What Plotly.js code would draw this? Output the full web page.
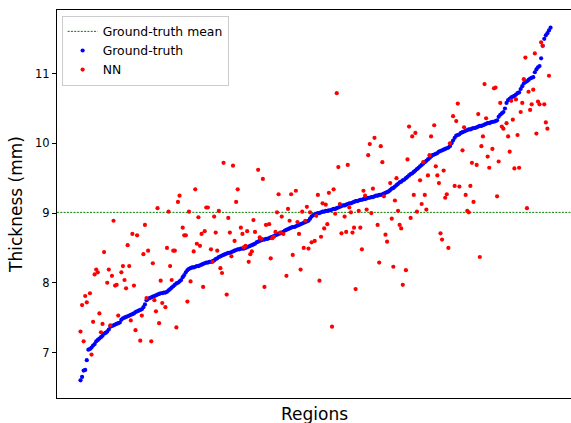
<!DOCTYPE html>
<html>
<head>
<meta charset="utf-8">
<script src="https://cdn.plot.ly/plotly-3.0.1.min.js"></script>
<style>
html, body { margin: 0; padding: 0; background: #ffffff; overflow: hidden; width: 571px; height: 423px; }
#chart { width: 571px; height: 423px; }
</style>
</head>
<body>
<div id="chart"></div>
<script>
// Ground-truth thickness per region (sorted ascending)
var groundTruth = [
  6.60, 6.65, 6.74, 6.75, 6.89, 7.04, 7.05, 7.07, 7.10, 7.12,
  7.16, 7.18, 7.20, 7.22, 7.24, 7.27, 7.28, 7.30, 7.33, 7.37,
  7.38, 7.39, 7.40, 7.41, 7.42, 7.43, 7.47, 7.49, 7.50, 7.51,
  7.52, 7.53, 7.54, 7.55, 7.56, 7.58, 7.59, 7.60, 7.61, 7.62,
  7.65, 7.69, 7.75, 7.77, 7.78, 7.79, 7.80, 7.81, 7.82, 7.83,
  7.84, 7.85, 7.85, 7.86, 7.86, 7.87, 7.89, 7.91, 7.93, 7.95,
  7.97, 7.99, 8.00, 8.02, 8.04, 8.08, 8.11, 8.15, 8.18, 8.20,
  8.21, 8.22, 8.22, 8.23, 8.24, 8.24, 8.25, 8.26, 8.27, 8.28,
  8.29, 8.29, 8.30, 8.30, 8.31, 8.32, 8.34, 8.35, 8.37, 8.38,
  8.39, 8.40, 8.41, 8.42, 8.43, 8.43, 8.44, 8.45, 8.46, 8.47,
  8.48, 8.48, 8.49, 8.49, 8.49, 8.50, 8.51, 8.52, 8.53, 8.54,
  8.55, 8.56, 8.58, 8.59, 8.60, 8.61, 8.62, 8.62, 8.63, 8.63,
  8.64, 8.65, 8.66, 8.67, 8.68, 8.69, 8.70, 8.71, 8.72, 8.73,
  8.75, 8.76, 8.77, 8.78, 8.79, 8.80, 8.80, 8.81, 8.82, 8.83,
  8.84, 8.85, 8.86, 8.87, 8.88, 8.89, 8.92, 8.95, 8.97, 8.98,
  8.99, 9.00, 9.00, 9.01, 9.02, 9.02, 9.03, 9.03, 9.04, 9.04,
  9.05, 9.06, 9.06, 9.07, 9.08, 9.09, 9.10, 9.11, 9.11, 9.12,
  9.13, 9.14, 9.14, 9.15, 9.16, 9.17, 9.17, 9.18, 9.19, 9.19,
  9.20, 9.20, 9.21, 9.22, 9.22, 9.23, 9.23, 9.24, 9.25, 9.25,
  9.26, 9.26, 9.27, 9.28, 9.29, 9.30, 9.31, 9.33, 9.35, 9.36,
  9.38, 9.40, 9.42, 9.44, 9.45, 9.47, 9.48, 9.50, 9.52, 9.54,
  9.56, 9.57, 9.59, 9.61, 9.63, 9.65, 9.67, 9.69, 9.71, 9.73,
  9.75, 9.77, 9.79, 9.81, 9.83, 9.84, 9.85, 9.86, 9.88, 9.89,
  9.90, 9.91, 9.92, 9.93, 9.94, 9.96, 10.00, 10.04, 10.08, 10.11,
  10.12, 10.13, 10.15, 10.16, 10.17, 10.18, 10.19, 10.20, 10.20, 10.21,
  10.22, 10.22, 10.23, 10.24, 10.25, 10.25, 10.26, 10.27, 10.28, 10.29,
  10.29, 10.30, 10.31, 10.31, 10.32, 10.33, 10.38, 10.41, 10.43, 10.45,
  10.50, 10.58, 10.62, 10.64, 10.66, 10.67, 10.68, 10.70, 10.72, 10.73,
  10.78, 10.82, 10.86, 10.88, 10.89, 10.91, 10.93, 10.94, 10.95, 11.02,
  11.06, 11.09, 11.11, 11.22, 11.40, 11.50, 11.55, 11.58, 11.62, 11.66
];

// NN predictions: region index and predicted thickness (visible points)
var nnRegion = [
  0, 1, 2, 3, 4, 6, 7, 8, 9, 10, 11, 12, 13, 14, 15, 17, 18, 19, 20, 21,
  22, 23, 24, 26, 27, 28, 29, 30, 31, 32, 33, 34, 35, 36, 38, 39, 40, 41, 42, 43,
  45, 46, 47, 48, 49, 50, 51, 52, 54, 55, 56, 57, 58, 59, 60, 61, 62, 63, 65, 66,
  67, 68, 69, 70, 72, 73, 74, 75, 76, 77, 78, 79, 80, 81, 83, 84, 85, 86, 87, 88,
  89, 90, 91, 93, 94, 95, 96, 97, 98, 99, 100, 102, 103, 104, 105, 106, 107, 108, 109, 110,
  111, 113, 114, 115, 116, 117, 118, 120, 121, 122, 123, 124, 125, 126, 127, 128, 129, 131, 132, 133,
  134, 135, 137, 138, 139, 140, 141, 142, 143, 144, 145, 146, 147, 149, 150, 151, 152, 153, 154, 155,
  156, 157, 158, 160, 161, 162, 163, 164, 165, 166, 168, 169, 170, 171, 172, 173, 174, 175, 177, 178,
  179, 180, 181, 182, 183, 184, 185, 186, 187, 189, 190, 191, 192, 193, 194, 195, 197, 198, 199, 200,
  201, 202, 203, 204, 205, 207, 208, 209, 210, 211, 212, 213, 214, 216, 217, 218, 219, 220, 221, 222,
  223, 225, 226, 227, 228, 229, 230, 231, 232, 233, 234, 235, 237, 238, 239, 240, 241, 243, 244, 245,
  246, 247, 248, 249, 250, 252, 253, 254, 255, 256, 257, 258, 259, 260, 262, 263, 264, 265, 266, 267,
  268, 269, 271, 272, 273, 274, 275, 276, 277, 278, 279, 280, 281, 282, 283, 284, 285, 286, 287, 288,
  289, 290, 291, 292, 293, 294, 295, 296, 297, 298
];
var nnThickness = [
  7.30, 7.68, 7.16, 7.81, 7.72, 7.85, 6.97, 7.44, 8.12, 8.19, 8.15, 7.56, 7.29, 7.41, 8.44, 8.00, 8.19, 7.39, 8.10, 8.89,
  7.96, 7.97, 7.53, 8.15, 8.24, 8.04, 7.92, 8.54, 8.24, 7.46, 8.70, 7.96, 7.32, 8.68, 7.17, 7.53, 8.41, 8.83, 7.78, 8.46,
  7.16, 8.28, 7.75, 7.59, 9.07, 7.42, 8.03, 7.71, 7.65, 8.50, 9.02, 8.24, 8.04, 8.46, 8.46, 7.36, 9.16, 9.25, 8.79, 8.68,
  8.68, 7.73, 9.02, 8.02, 8.45, 9.34, 8.56, 8.94, 8.53, 8.70, 7.94, 8.74, 9.08, 9.08, 8.48, 8.30, 8.95, 8.72, 8.46, 9.03,
  8.21, 8.14, 9.72, 7.83, 8.93, 8.72, 8.38, 9.68, 8.60, 9.16, 9.34, 8.79, 8.70, 8.51, 8.53, 8.74, 8.30, 8.41, 8.45, 8.90,
  8.73, 9.62, 8.65, 8.63, 9.49, 7.94, 8.83, 8.84, 8.35, 8.64, 8.66, 8.73, 9.01, 9.27, 8.72, 8.95, 8.70, 8.10, 9.06, 8.89,
  9.27, 8.40, 9.32, 8.87, 8.70, 8.19, 9.02, 8.50, 8.89, 9.09, 8.49, 9.01, 8.58, 8.60, 8.96, 9.26, 8.03, 8.66, 9.14, 8.78,
  9.12, 8.84, 9.29, 7.37, 9.34, 8.99, 10.72, 9.66, 9.13, 8.71, 8.95, 8.73, 9.69, 9.08, 9.01, 8.72, 8.79, 7.91, 9.03, 8.79,
  8.48, 9.32, 9.25, 9.05, 9.83, 9.99, 9.00, 9.35, 10.08, 8.83, 8.29, 9.96, 9.73, 9.24, 8.69, 8.59, 9.43, 8.92, 8.23, 9.18,
  9.50, 9.03, 8.83, 8.78, 7.97, 8.18, 9.77, 10.24, 8.93, 10.10, 9.26, 10.15, 9.02, 9.47, 9.13, 9.73, 9.26, 9.05, 9.54, 9.83,
  10.10, 10.26, 9.67, 9.54, 9.43, 8.71, 8.62, 9.61, 9.22, 9.27, 8.50, 10.00, 10.39, 9.39, 10.32, 10.57, 9.38, 9.90, 10.23, 9.26,
  9.03, 9.01, 9.39, 9.72, 9.16, 9.69, 10.42, 8.37, 9.96, 10.10, 10.85, 10.36, 9.81, 9.65, 9.92, 10.79, 10.80, 9.24, 9.74, 10.58,
  10.24, 10.21, 10.29, 10.10, 9.88, 10.61, 10.34, 9.64, 10.63, 10.12, 9.65, 10.45, 10.58, 10.92, 11.23, 9.07, 10.74, 10.48, 10.56, 10.77,
  11.29, 10.14, 10.60, 10.56, 11.45, 11.40, 10.56, 10.30, 10.21, 10.97
];

var gtMean = 9.01;
var yTicks = [7, 8, 9, 10, 11];

var regions = groundTruth.map(function (_, i) { return i; });
var nLast = groundTruth.length - 1;
var pad = 0.05 * nLast;
// the figure is cropped on the right just before the right spine
var xRange = [-pad, nLast + pad * 0.87];
var yMin = Math.min.apply(null, groundTruth.concat(nnThickness));
var yMax = Math.max.apply(null, groundTruth.concat(nnThickness));
var yPad = 0.05 * (yMax - yMin);
var yRange = [yMin - yPad, yMax + yPad];

var traces = [
  {
    x: [-pad, nLast + pad], y: [gtMean, gtMean],
    mode: 'lines', name: 'Ground-truth mean',
    line: { color: '#008000', width: 1, dash: '2px,1.3px' },
    hoverinfo: 'skip'
  },
  {
    x: regions, y: groundTruth,
    mode: 'markers', name: 'Ground-truth',
    marker: { color: '#0000ff', size: 4.2, line: { width: 0 } }
  },
  {
    x: nnRegion, y: nnThickness,
    mode: 'markers', name: 'NN',
    marker: { color: '#ff0000', size: 4.2, line: { width: 0 } }
  }
];

var layout = {
  width: 571, height: 423,
  margin: { l: 57, r: 0, t: 10, b: 25, pad: 0 },
  paper_bgcolor: '#ffffff', plot_bgcolor: '#ffffff',
  font: { family: 'DejaVu Sans, sans-serif', color: '#000000', size: 12 },
  showlegend: true,
  legend: {
    x: 0.009, y: 0.985, xanchor: 'left', yanchor: 'top',
    bgcolor: 'rgba(255,255,255,0.8)', bordercolor: '#cccccc', borderwidth: 1,
    font: { family: 'DejaVu Sans, sans-serif', size: 12.4, color: '#000000' },
    tracegroupgap: 0
  },
  xaxis: {
    range: xRange, showticklabels: false, ticks: '',
    showgrid: false, zeroline: false,
    showline: true, mirror: true, linecolor: '#000000', linewidth: 1,
    automargin: false
  },
  yaxis: {
    range: yRange, tickvals: yTicks, ticktext: yTicks.map(String),
    ticks: 'outside', ticklen: 4, tickwidth: 1, tickcolor: '#000000',
    tickfont: { size: 11.5, family: 'DejaVu Sans, sans-serif', color: '#000000' },
    showgrid: false, zeroline: false,
    showline: true, mirror: false, linecolor: '#000000', linewidth: 1,
    title: { text: 'Thickness (mm)', font: { size: 17, family: 'DejaVu Sans, sans-serif' }, standoff: 8 },
    automargin: false
  },
  annotations: [{
    text: 'Regions', xref: 'paper', yref: 'paper', x: 0.5, y: 0,
    xanchor: 'center', yanchor: 'top', yshift: -4, showarrow: false,
    font: { size: 17, family: 'DejaVu Sans, sans-serif', color: '#000000' }
  }]
};

Plotly.newPlot('chart', traces, layout, { displayModeBar: false, staticPlot: true });
</script>
</body>
</html>
